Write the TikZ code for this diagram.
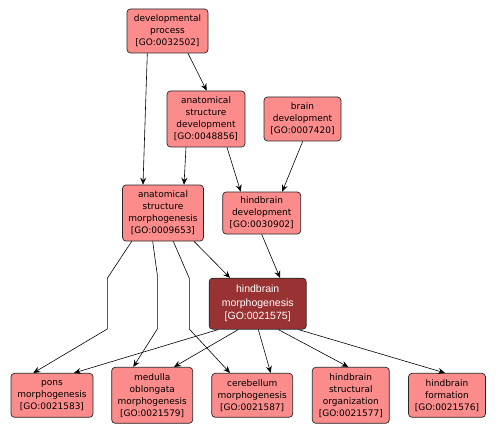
\documentclass[tikz,border=0pt]{standalone}
\usepackage{fontspec}
\setmainfont{DejaVu Sans}
\newfontfamily\hmfont{Liberation Sans}
\usetikzlibrary{arrows.meta}
\definecolor{goPink}{RGB}{252,140,140}
\definecolor{goDark}{RGB}{153,51,51}
\tikzset{
  gobox/.style={draw=black!85, line width=0.7pt, rounded corners=3.5pt, fill=goPink,
    align=center, inner sep=0pt, font=\fontsize{9}{12}\selectfont, text=black},
  hmbox/.style={gobox, fill=goDark, text=white, font=\hmfont\fontsize{10.5}{13.5}\selectfont},
  edge/.style={draw=black, line width=0.6pt, -{Stealth[length=7pt,width=6pt,inset=2.5pt]}},
}
\begin{document}
\begin{tikzpicture}[x=1pt,y=-1pt]
\useasboundingbox[fill=white] (0,0) rectangle (498,433);
\node[gobox, minimum width=81pt, minimum height=44pt] (dp) at (167.5,31) {developmental\\process\\{[GO:0032502]}};
\node[gobox, minimum width=78pt, minimum height=56pt] (asd) at (206,119) {anatomical\\structure\\development\\{[GO:0048856]}};
\node[gobox, minimum width=77pt, minimum height=44pt] (bd) at (302.5,119) {brain\\development\\{[GO:0007420]}};
\node[gobox, minimum width=81pt, minimum height=56pt] (asm) at (163,213) {anatomical\\structure\\morphogenesis\\{[GO:0009653]}};
\node[gobox, minimum width=78pt, minimum height=42pt] (hd) at (261.7,213) {hindbrain\\development\\{[GO:0030902]}};
\node[hmbox, minimum width=97pt, minimum height=51pt] (hm) at (257.7,303.7) {hindbrain\\morphogenesis\\{[GO:0021575]}};
\node[gobox, minimum width=82pt, minimum height=44pt] (pons) at (52,395.3) {pons\\morphogenesis\\{[GO:0021583]}};
\node[gobox, minimum width=81pt, minimum height=56pt] (med) at (152.2,395.3) {medulla\\oblongata\\morphogenesis\\{[GO:0021579]}};
\node[gobox, minimum width=81pt, minimum height=44pt] (cer) at (252.2,395.3) {cerebellum\\morphogenesis\\{[GO:0021587]}};
\node[gobox, minimum width=77pt, minimum height=56pt] (hso) at (350.8,395.3) {hindbrain\\structural\\organization\\{[GO:0021577]}};
\node[gobox, minimum width=77pt, minimum height=44pt] (hf) at (447,395.3) {hindbrain\\formation\\{[GO:0021576]}};
% bend points
\coordinate (p1) at (107.3,278.3);
\coordinate (p2) at (107.3,329);
\coordinate (m1) at (157.3,275);
\coordinate (m2) at (157.3,329);
\coordinate (c1) at (189.3,278.3);
\coordinate (c2) at (189.3,329);
% edges
\draw[edge] ([xshift=20.5pt]dp.south) -- ([xshift=0.7pt]asd.north);
\draw[edge] ([xshift=-20.2pt]dp.south) -- ([xshift=-20pt]asm.north);
\draw[edge] ([xshift=-20pt]asd.south) -- ([xshift=21pt]asm.north);
\draw[edge] ([xshift=21pt]asd.south) -- ([xshift=-21pt]hd.north);
\draw[edge] ([xshift=0.2pt]bd.south) -- ([xshift=20.5pt]hd.north);
\draw[edge] (hd.south) -- ([xshift=22.3pt]hm.north);
\draw[edge] ([xshift=31pt]asm.south) -- ([xshift=-27.7pt]hm.north);
\draw[edge] ([xshift=-31.3pt]asm.south) -- (p1) -- (p2) -- ([xshift=-18.7pt]pons.north);
\draw[edge] ([xshift=-10.3pt]asm.south) -- (m1) -- (m2) -- ([xshift=-18.9pt]med.north);
\draw[edge] ([xshift=10.3pt]asm.south) -- (c1) -- (c2) -- ([xshift=-22.2pt]cer.north);
\draw[edge] ([xshift=-39.4pt]hm.south) -- ([xshift=22pt]pons.north);
\draw[edge] ([xshift=-19.4pt]hm.south) -- ([xshift=21.8pt]med.north);
\draw[edge] ([xshift=0.6pt]hm.south) -- ([xshift=18.5pt]cer.north);
\draw[edge] ([xshift=20.6pt]hm.south) -- ([xshift=-2.5pt]hso.north);
\draw[edge] ([xshift=40.6pt]hm.south) -- ([xshift=-2pt]hf.north);
\end{tikzpicture}
\end{document}
